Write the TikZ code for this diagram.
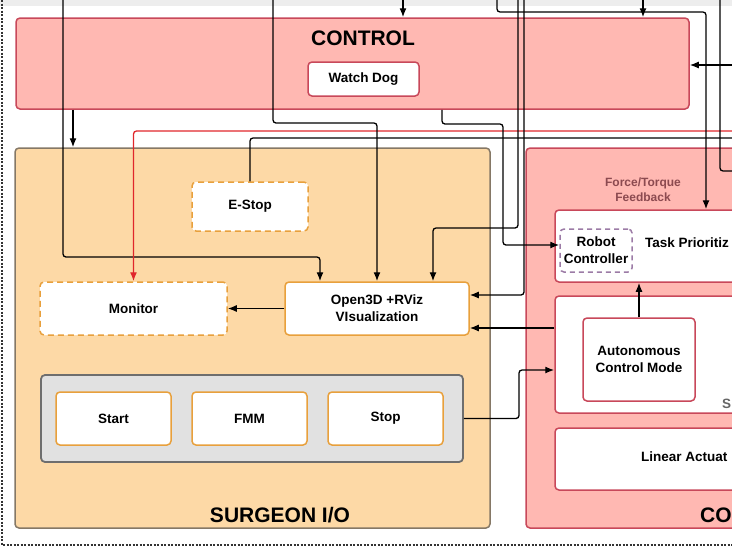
\documentclass[tikz,border=0pt]{standalone}
\usepackage{fontspec}
\setmainfont{Liberation Sans}
\usetikzlibrary{arrows.meta}
\definecolor{ctrlfill}{HTML}{FFB8B2}
\definecolor{ctrldraw}{HTML}{C8485A}
\definecolor{surgfill}{HTML}{FDD9A6}
\definecolor{surgdraw}{HTML}{857866}
\definecolor{iodraw}{HTML}{E8A03C}
\definecolor{grpfill}{HTML}{E1E1E1}
\definecolor{grpdraw}{HTML}{6E6E6E}
\definecolor{rcdraw}{HTML}{9C7BA6}
\definecolor{fttext}{HTML}{8C4A50}
\definecolor{redline}{HTML}{E0262B}
\tikzset{
  lbl/.style={font=\fontsize{13.5}{17}\selectfont\bfseries, align=center},
  areatitle/.style={font=\fontsize{21}{25}\selectfont\bfseries},
  ctrlarea/.style={fill=ctrlfill, draw=ctrldraw, line width=1.5pt, rounded corners=4pt, inner sep=0pt},
  surgarea/.style={fill=surgfill, draw=surgdraw, line width=1.5pt, rounded corners=4pt, inner sep=0pt},
  grpbox/.style={fill=grpfill, draw=grpdraw, line width=1.8pt, rounded corners=4pt, inner sep=0pt},
  iobox/.style={lbl, fill=white, draw=iodraw, line width=1.5pt, rounded corners=4pt, inner sep=0pt},
  iodash/.style={iobox, dash pattern=on 6pt off 4pt},
  ctrlbox/.style={lbl, fill=white, draw=ctrldraw, line width=1.5pt, rounded corners=4pt, inner sep=0pt},
  rcbox/.style={lbl, fill=white, draw=rcdraw, line width=1.5pt, dash pattern=on 5pt off 4pt, rounded corners=4pt, inner sep=0pt},
  link/.style={draw=black, line width=1.3pt, rounded corners=3pt},
  arr/.style={link, -{Latex[length=9pt,width=7pt]}},
  redarr/.style={arr, draw=redline}
}
\begin{document}
\begin{tikzpicture}[x=1pt,y=-1pt]
  \useasboundingbox (0,0) rectangle (732,547);
  \clip (0,0) rectangle (732,547);
  \fill[black!7] (0,0) rectangle (732,6);
  \draw[black!80, line width=1.3pt, dash pattern=on 2pt off 1.5pt] (2,0) -- (2,545) -- (732,545);

  \node[ctrlarea, minimum width=673pt, minimum height=91pt] (control) at (352.5,63.5) {};
  \node[areatitle] (controltitle) at (363,38) {CONTROL};
  \node[ctrlbox, minimum width=111pt, minimum height=34pt] (watchdog) at (363.5,79) {Watch Dog};

  \node[surgarea, minimum width=475pt, minimum height=380pt] (surgeon) at (252.5,338) {};
  \node[areatitle] (surgeontitle) at (280,515) {SURGEON I/O};
  \node[iodash, minimum width=116pt, minimum height=49pt] (estop) at (250,206.5) {E-Stop};
  \node[iodash, minimum width=187pt, minimum height=53pt] (monitor) at (133.5,308.5) {Monitor};
  \node[iobox, minimum width=184pt, minimum height=53pt] (viz) at (377,308.5) {Open3D +RViz\\VIsualization};
  \node[grpbox, minimum width=422pt, minimum height=87pt] (buttons) at (252,418.5) {};
  \foreach \name/\x/\lab in {start/113.5/Start, fmm/249.5/FMM, stop/385.5/Stop}
    \node[iobox, minimum width=115pt, minimum height=53pt] (\name) at (\x,418.5) {\lab};

  \node[ctrlarea, minimum width=254pt, minimum height=380pt] (robot) at (653,338) {};
  \node[font=\fontsize{12}{15}\selectfont\bfseries, text=fttext, align=center] (ftlabel) at (643,190) {Force/Torque\\Feedback};
  \node[ctrlbox, minimum width=215pt, minimum height=72pt] (task) at (662.5,246) {};
  \node[rcbox, minimum width=72pt, minimum height=43pt] (robotctrl) at (596,250.5) {Robot\\Controller};
  \node[lbl, anchor=west, inner sep=0pt] (tasklabel) at (645,243) {Task Prioritiz};
  \node[ctrlbox, minimum width=215pt, minimum height=117pt] (mid) at (662.5,354.5) {};
  \node[ctrlbox, minimum width=112pt, minimum height=83pt] (auto) at (639,359.5) {Autonomous\\Control Mode};
  \node[lbl, anchor=west, inner sep=0pt, text=black!60] (midlabel) at (722,404) {S};
  \node[ctrlbox, minimum width=215pt, minimum height=62pt] (linear) at (662.5,459) {};
  \node[lbl, anchor=west, inner sep=0pt] (linearlabel) at (641,457) {Linear Actuat};
  \node[areatitle, anchor=west, inner sep=0pt] (robottitle) at (700,515) {CO};

  \coordinate (in1) at (63,0);
  \coordinate (in2) at (732,131);
  \coordinate (in3) at (273,0);
  \coordinate (in4) at (403,0);
  \coordinate (in5) at (497,0);
  \coordinate (in6) at (643,0);
  \coordinate (in7) at (518,0);
  \coordinate (in8) at (524,0);
  \coordinate (in9) at (732,65);
  \coordinate (in10) at (720,0);
  \coordinate (out1) at (732,138);
  \coordinate (out2) at (732,171);

  \draw[arr] (in1) |- (320,257) -- (viz.north -| 320,0);
  \draw[arr] (control.south -| 73,0) -- (surgeon.north -| 73,0);
  \draw[redarr] (in2) -| (monitor.north);
  \draw[link] (estop.north) |- (out1);
  \draw[arr] (in3) |- (377,123) -- (viz.north);
  \draw[arr] (in4) -- (control.north -| in4);
  \draw[arr] (in5) |- (706,12) -- (task.north -| 706,0);
  \draw[arr] (in6) -- (control.north -| in6);
  \draw[arr] (in7) |- (433,228) -- (viz.north -| 433,0);
  \draw[arr] (in8) |- (viz.east |- 0,295);
  \draw[arr] (control.south -| 442,0) |- (503,124) |- (robotctrl.west |- 0,245);
  \draw[arr] (in9) -- (control.east |- in9);
  \draw[link] (in10) |- (out2);
  \draw[arr] (auto.north) -- (task.south -| auto.north);
  \draw[arr] (mid.west |- 0,328) -- (viz.east |- 0,328);
  \draw[arr] (buttons.east) -| (519,370) -- (mid.west |- 0,370);
  \draw[arr] (viz.west) -- (monitor.east);
\end{tikzpicture}
\end{document}
